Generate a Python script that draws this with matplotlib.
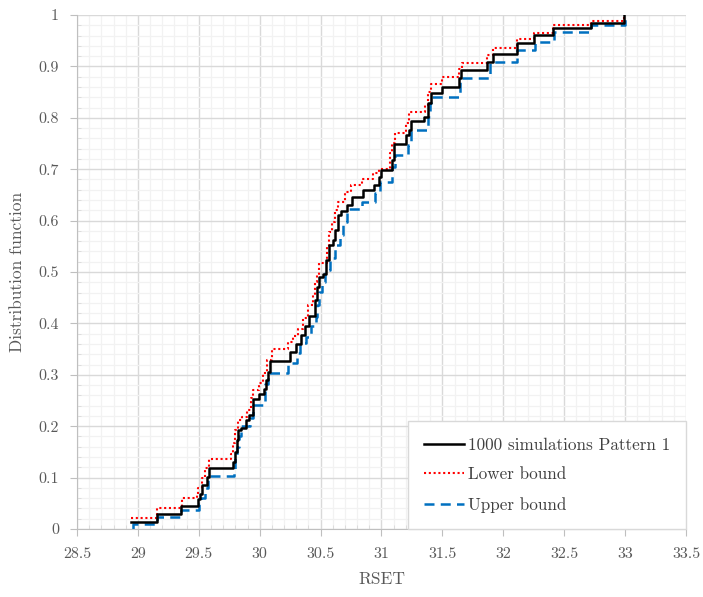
import numpy as np
import matplotlib
matplotlib.use('Agg')
import matplotlib.pyplot as plt
from matplotlib.ticker import MultipleLocator, FormatStrFormatter, FuncFormatter

plt.rcParams['font.family'] = 'cmr10'
plt.rcParams['axes.formatter.use_mathtext'] = True

# step points (x where the cdf jumps, value after the jump)
sim_x = [28.94, 29.157, 29.354, 29.496, 29.51, 29.53, 29.565, 29.586, 29.78, 29.797,
         29.81, 29.824, 29.844, 29.887, 29.915, 29.947, 29.997, 30.038, 30.052, 30.07,
         30.085, 30.249, 30.30, 30.336, 30.372, 30.407, 30.454, 30.473, 30.49, 30.52,
         30.545, 30.571, 30.604, 30.618, 30.645, 30.665, 30.714, 30.755, 30.845, 30.938,
         30.982, 31.0, 31.084, 31.1, 31.2, 31.23, 31.24, 31.351, 31.384, 31.41,
         31.494, 31.636, 31.65, 31.864, 31.913, 32.115, 32.252, 32.405, 32.717, 32.99]
sim_y = [0.014, 0.030, 0.045, 0.058, 0.069, 0.086, 0.102, 0.119, 0.131, 0.150,
         0.173, 0.193, 0.196, 0.212, 0.222, 0.252, 0.262, 0.272, 0.290, 0.306,
         0.327, 0.345, 0.360, 0.377, 0.395, 0.414, 0.445, 0.471, 0.491, 0.497,
         0.523, 0.552, 0.562, 0.582, 0.611, 0.619, 0.630, 0.645, 0.660, 0.669,
         0.685, 0.698, 0.718, 0.749, 0.767, 0.776, 0.794, 0.802, 0.828, 0.848,
         0.859, 0.877, 0.893, 0.909, 0.925, 0.945, 0.961, 0.974, 0.985, 1.0]

low_x = [28.94, 29.154, 29.36, 29.483, 29.497, 29.524, 29.55, 29.586, 29.764, 29.783,
         29.797, 29.824, 29.852, 29.893, 29.926, 29.947, 29.997, 30.03, 30.057, 30.098,
         30.235, 30.276, 30.317, 30.358, 30.40, 30.435, 30.454, 30.473, 30.49, 30.55,
         30.571, 30.59, 30.618, 30.645, 30.70, 30.746, 30.837, 30.933, 30.982, 31.07,
         31.084, 31.11, 31.20, 31.23, 31.357, 31.384, 31.404, 31.494, 31.636, 31.658,
         31.864, 31.913, 32.115, 32.252, 32.405, 32.717, 32.99]
low_y = [0.022, 0.040, 0.060, 0.068, 0.080, 0.099, 0.118, 0.136, 0.145, 0.167,
         0.193, 0.212, 0.218, 0.232, 0.254, 0.270, 0.285, 0.303, 0.329, 0.350,
         0.364, 0.375, 0.390, 0.410, 0.436, 0.455, 0.481, 0.494, 0.517, 0.549,
         0.578, 0.598, 0.621, 0.637, 0.656, 0.669, 0.680, 0.692, 0.700, 0.731,
         0.750, 0.770, 0.790, 0.812, 0.825, 0.851, 0.866, 0.879, 0.895, 0.907,
         0.922, 0.935, 0.953, 0.965, 0.981, 0.989, 1.0]

up_x = [28.96, 28.96, 29.154, 29.354, 29.505, 29.52, 29.55, 29.578, 29.789, 29.80,
        29.816, 29.832, 29.85, 29.92, 29.947, 30.045, 30.07, 30.235, 30.309, 30.33,
        30.38, 30.419, 30.462, 30.473, 30.49, 30.509, 30.536, 30.577, 30.618, 30.66,
        30.68, 30.714, 30.837, 30.946, 30.987, 31.084, 31.11, 31.22, 31.245, 31.384,
        31.398, 31.41, 31.645, 31.891, 32.115, 32.26, 32.416, 32.717, 33.0]
up_y = [0.0, 0.009, 0.024, 0.037, 0.048, 0.060, 0.079, 0.103, 0.115, 0.138,
        0.160, 0.180, 0.200, 0.215, 0.241, 0.283, 0.303, 0.322, 0.342, 0.361,
        0.374, 0.394, 0.413, 0.436, 0.462, 0.481, 0.504, 0.527, 0.553, 0.572,
        0.598, 0.622, 0.637, 0.653, 0.676, 0.705, 0.728, 0.747, 0.776, 0.802,
        0.828, 0.841, 0.877, 0.909, 0.932, 0.948, 0.967, 0.981, 1.0]

fig = plt.figure(figsize=(7.03, 5.97), dpi=100)
ax = fig.add_axes([0.1095, 0.1139, 0.8663, 0.861])

ax.step(sim_x, sim_y, where='post', color='black', lw=1.8, label='1000 simulations Pattern 1', zorder=4)
ax.step(low_x, low_y, where='post', color='#ff0000', lw=1.5, linestyle=(0, (1, 1.3)), label='Lower bound', zorder=3)
ax.step(up_x, up_y, where='post', color='#0070c0', lw=1.8, linestyle=(0, (4, 2.5)), label='Upper bound', zorder=2)

ax.set_xlim(28.5, 33.5)
ax.set_ylim(0, 1)
ax.xaxis.set_major_locator(MultipleLocator(0.5))
ax.xaxis.set_minor_locator(MultipleLocator(0.1))
ax.yaxis.set_major_locator(MultipleLocator(0.1))
ax.yaxis.set_minor_locator(MultipleLocator(0.02))
fmt = FuncFormatter(lambda v, p: '%g' % round(v, 3))
ax.xaxis.set_major_formatter(fmt)
ax.yaxis.set_major_formatter(fmt)

ax.grid(which='major', color='#d9d9d9', lw=1.0)
ax.grid(which='minor', color='#f2f2f2', lw=0.9)
ax.set_axisbelow(True)
for s in ['top', 'right']:
    ax.spines[s].set_visible(False)
for s in ['left', 'bottom']:
    ax.spines[s].set_color('#bfbfbf')
ax.tick_params(which='major', direction='out', length=5, color='#bfbfbf', labelcolor='#595959',
               labelsize=11.5, pad=8)
ax.tick_params(which='minor', direction='in', length=3, color='#d9d9d9')

ax.set_xlabel('RSET', fontsize=12.5, color='#595959', labelpad=8)
ax.set_ylabel('Distribution function', fontsize=12.5, color='#595959', labelpad=10)

leg = ax.legend(loc='lower right', borderaxespad=0., fontsize=12.3, frameon=True, fancybox=False,
                edgecolor='#d9d9d9', framealpha=1, handlelength=2.35, borderpad=0.95, labelspacing=0.85,
                handletextpad=0.2)
leg.get_frame().set_linewidth(1.0)
for t in leg.get_texts():
    t.set_color('#404040')

plt.savefig('out.png', dpi=100)
